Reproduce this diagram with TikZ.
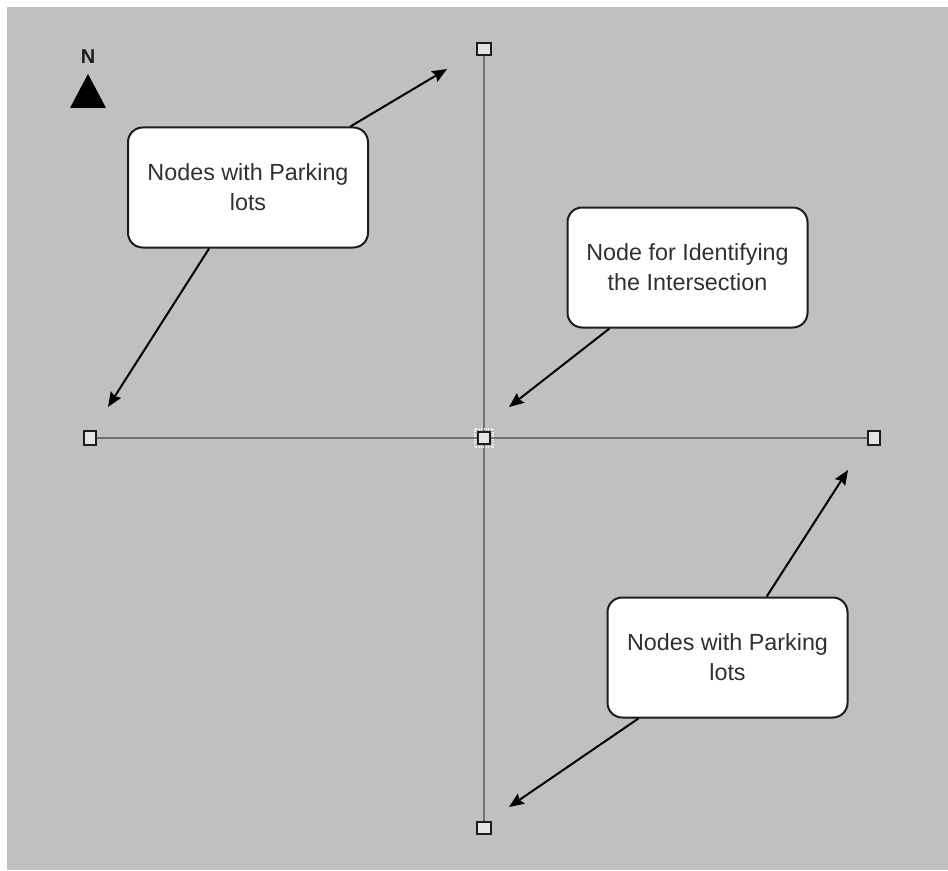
\documentclass[tikz,border=0pt]{standalone}
\usepackage{fontspec}
\setmainfont{Liberation Sans}
\usetikzlibrary{arrows.meta}

\definecolor{canvas}{RGB}{192,192,192}
\definecolor{roadline}{RGB}{112,112,120}
\definecolor{inkdark}{RGB}{28,28,28}
\definecolor{labeltext}{RGB}{48,48,48}
\definecolor{endfill}{RGB}{228,228,228}

\tikzset{
  road/.style={draw=roadline, line width=2pt},
  endpt/.style={draw=inkdark, fill=endfill, line width=1.6pt, inner sep=0pt},
  callout/.style={draw=inkdark, fill=white, line width=1.5pt, rounded corners=11pt,
    minimum width=180pt, minimum height=90pt, align=center, text=labeltext,
    font=\fontsize{17.5}{22.5}\selectfont, inner sep=0pt},
  pointer/.style={draw=black, line width=1.5pt,
    -{Stealth[length=11pt, width=9pt, inset=1.5pt]}}
}

\begin{document}
\begin{tikzpicture}[x=0.75pt, y=-0.75pt]
  % page and canvas
  \fill[white] (0,0) rectangle (948,870);
  \fill[canvas] (7,7) rectangle (948,870);
  \useasboundingbox (0,0) rectangle (948,870);

  % street end points and the intersection
  \node[endpt, minimum width=10.5pt, minimum height=8.5pt] (ntop) at (484,49) {};
  \node[endpt, minimum width=10.5pt, minimum height=8.5pt] (nbot) at (484,828) {};
  \node[endpt, minimum width=8.5pt, minimum height=10.5pt] (nlft) at (90,438) {};
  \node[endpt, minimum width=8.5pt, minimum height=10.5pt] (nrgt) at (874,438) {};
  \node[endpt, minimum width=9.5pt, minimum height=9.5pt] (nctr) at (484,438) {};

  % streets
  \draw[road] (ntop) -- (nctr);
  \draw[road] (nctr) -- (nbot);
  \draw[road] (nlft) -- (nctr);
  \draw[road] (nctr) -- (nrgt);
  \draw[white, densely dotted, line width=0.8pt] (475,429) rectangle (493,447);

  % north arrow
  \node[font=\bfseries\fontsize{15}{16}\selectfont, text=inkdark] (north) at (88,57) {N};
  \fill[black] (70,108) -- (88,74) -- (106,108) -- cycle;

  % callouts
  \node[callout] (park1) at (248,187.5) {Nodes with Parking\\lots};
  \node[callout] (cross) at (687.5,267.5) {Node for Identifying\\the Intersection};
  \node[callout] (park2) at (727.5,657.5) {Nodes with Parking\\lots};

  % pointer targets
  \coordinate (t1) at (447,69);
  \coordinate (t2) at (108,407);
  \coordinate (t3) at (509,407);
  \coordinate (t4) at (848,470);
  \coordinate (t5) at (509,807);

  \draw[pointer] (park1) -- (t1);
  \draw[pointer] (park1) -- (t2);
  \draw[pointer] (cross) -- (t3);
  \draw[pointer] (park2) -- (t4);
  \draw[pointer] (park2) -- (t5);
\end{tikzpicture}
\end{document}
